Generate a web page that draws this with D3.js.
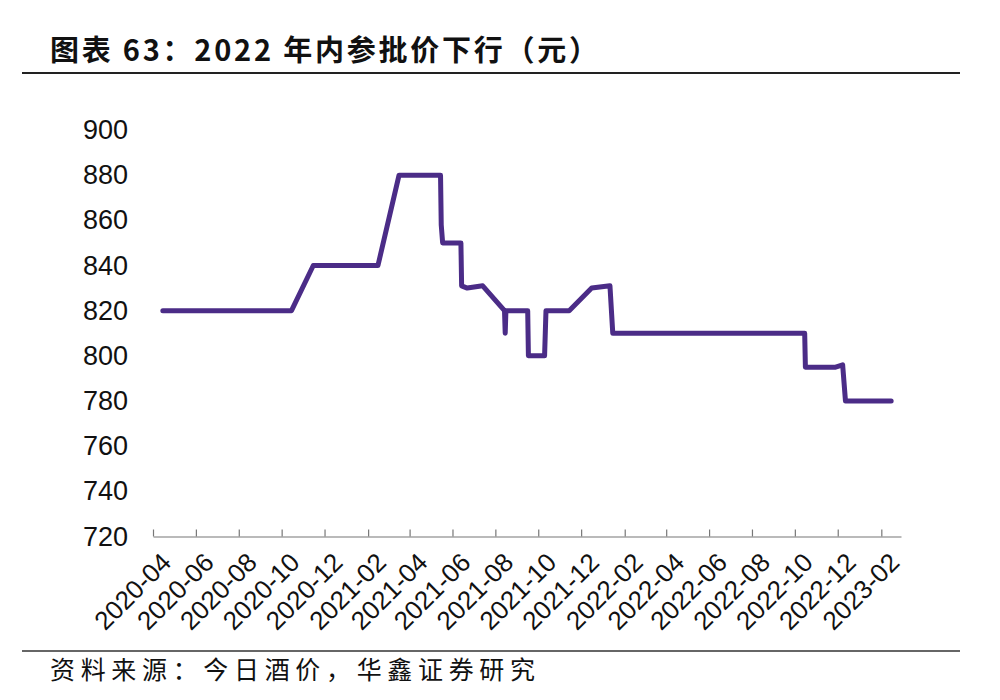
<!DOCTYPE html>
<html>
<head>
<meta charset="utf-8">
<script src="https://cdn.jsdelivr.net/npm/d3@7"></script>
<style>
  html, body { margin: 0; padding: 0; background: #ffffff; }
  svg { display: block; }
</style>
</head>
<body>
<svg id="chart" width="1000" height="700"></svg>
<script>
// ---- data ----
const titleText = "图表 63：2022 年内参批价下行（元）";
const sourceText = "资料来源：今日酒价，华鑫证券研究";

const dates = [
  "2020-04-15", "2020-10-15", "2020-11-15", "2021-02-15", "2021-03-17",
  "2021-05-15", "2021-05-16", "2021-05-18", "2021-06-13", "2021-06-14",
  "2021-06-22", "2021-07-14", "2021-08-14", "2021-08-15", "2021-08-16",
  "2021-09-16", "2021-09-17", "2021-10-10", "2021-10-12", "2021-11-14",
  "2021-12-16", "2022-01-11", "2022-01-15", "2022-10-15", "2022-10-16",
  "2022-11-28", "2022-12-08", "2022-12-12", "2023-02-15"
];
const prices = [
  820, 820, 840, 840, 880,
  880, 858, 850, 850, 831,
  830, 831, 820, 810, 820,
  820, 800, 800, 820, 820,
  830, 831, 810, 810, 795,
  795, 796, 780, 780
];

const yTicks = [720, 740, 760, 780, 800, 820, 840, 860, 880, 900];
const xTickLabels = [
  "2020-04", "2020-06", "2020-08", "2020-10", "2020-12",
  "2021-02", "2021-04", "2021-06", "2021-08", "2021-10", "2021-12",
  "2022-02", "2022-04", "2022-06", "2022-08", "2022-10", "2022-12",
  "2023-02"
];

// ---- drawing ----
const parse = d3.timeParse("%Y-%m-%d");
const parseMonth = d3.timeParse("%Y-%m");
const series = dates.map((d, i) => ({ date: parse(d), value: prices[i] }));
const tickDates = xTickLabels.map(parseMonth);

const svg = d3.select("#chart");
const tickFont = "'Liberation Sans', Arial, 'DejaVu Sans', sans-serif";
const cjkFont = "'Noto Sans CJK SC', 'Noto Sans', sans-serif";

const x = d3.scaleTime()
  .domain([parseMonth("2020-04"), parseMonth("2023-03")])
  .range([153, 901]);
const y = d3.scaleLinear()
  .domain([720, 900])
  .range([536.5, 130]);

// title
svg.append("text")
  .attr("x", 50).attr("y", 61)
  .attr("font-family", cjkFont)
  .attr("font-weight", "bold")
  .attr("font-size", 29)
  .attr("fill", "#111")
  .attr("textLength", 548)
  .attr("lengthAdjust", "spacing")
  .text(titleText);

svg.append("line")
  .attr("x1", 22).attr("x2", 960)
  .attr("y1", 73).attr("y2", 73)
  .attr("stroke", "#222").attr("stroke-width", 2);

// y tick labels (no axis line)
const yAxis = d3.axisLeft(y).tickValues(yTicks).tickSize(0).tickPadding(0);
const gy = svg.append("g").attr("transform", "translate(128,0)").call(yAxis);
gy.select(".domain").remove();
gy.selectAll("text")
  .attr("font-family", tickFont)
  .attr("font-size", 27)
  .attr("fill", "#111");

// x axis with inward ticks
const xAxis = d3.axisBottom(x)
  .tickValues(tickDates)
  .tickFormat(d3.timeFormat("%Y-%m"))
  .tickSizeInner(-7)
  .tickSizeOuter(0);
const gx = svg.append("g").attr("transform", `translate(0,${y(720)})`).call(xAxis);
gx.select(".domain").attr("stroke", "#777").attr("stroke-width", 1.2);
gx.selectAll(".tick line").attr("stroke", "#777").attr("stroke-width", 1.2);
gx.selectAll(".tick text")
  .attr("font-family", tickFont)
  .attr("font-size", 26)
  .attr("fill", "#111")
  .attr("text-anchor", "end")
  .attr("x", -6)
  .attr("y", 24)
  .attr("dy", "0.35em")
  .attr("transform", "rotate(-45)");

// line
const line = d3.line()
  .x(d => x(d.date))
  .y(d => y(d.value))
  .curve(d3.curveLinear);

svg.append("path")
  .datum(series)
  .attr("fill", "none")
  .attr("stroke", "#4B2C87")
  .attr("stroke-width", 5)
  .attr("stroke-linejoin", "round")
  .attr("stroke-linecap", "round")
  .attr("d", line);

// footer
svg.append("line")
  .attr("x1", 22).attr("x2", 960)
  .attr("y1", 651).attr("y2", 651)
  .attr("stroke", "#333").attr("stroke-width", 1.5);

svg.append("text")
  .attr("x", 50).attr("y", 679)
  .attr("font-family", cjkFont)
  .attr("font-size", 25)
  .attr("fill", "#111")
  .attr("textLength", 485)
  .attr("lengthAdjust", "spacing")
  .text(sourceText);
</script>
</body>
</html>
